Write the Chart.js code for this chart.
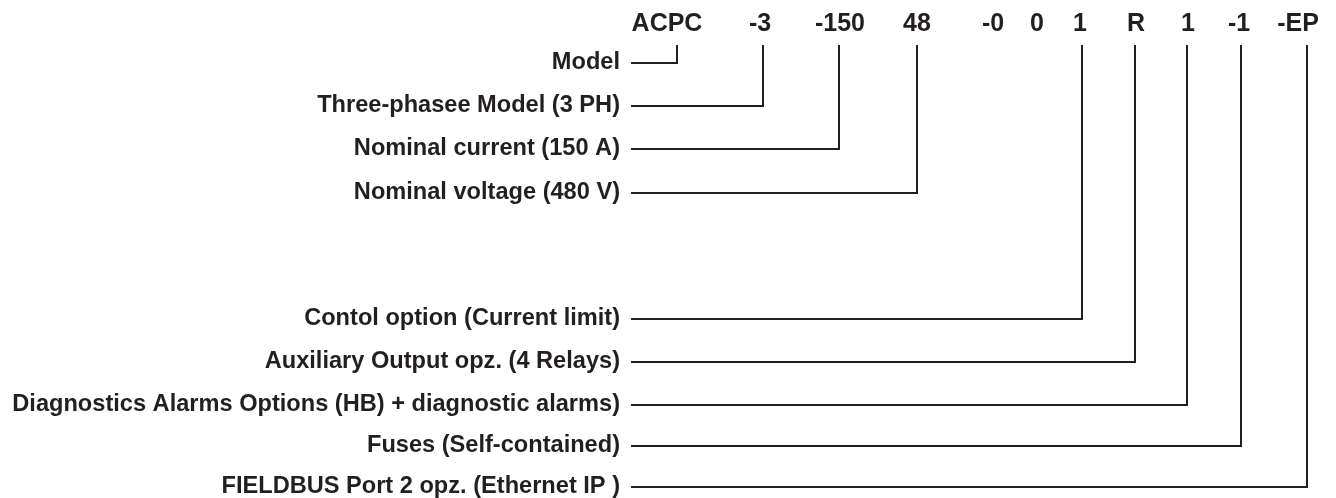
<!DOCTYPE html>
<html>
<head>
<meta charset="utf-8">
<title>ACPC ordering code</title>
<script src="https://cdn.jsdelivr.net/npm/chart.js@4"></script>
<style>
  html, body { margin: 0; padding: 0; background: #fff; }
  #wrap { width: 1336px; height: 498px; }
</style>
</head>
<body>
<div id="wrap"><canvas id="codeChart" width="1336" height="498"></canvas></div>
<script>
// Ordering code segments (top row) and where each one sits on the x scale
const codes = ["ACPC", "-3", "-150", "48", "-0", "0", "1", "R", "1", "-1", "-EP"];
const codeX = [667, 760, 840, 917, 993, 1037, 1080, 1136, 1188, 1239, 1298];

// Descriptions, the code segment each one points to, and their row on the y scale
const labels = [
  "Model",
  "Three-phasee Model (3 PH)",
  "Nominal current (150 A)",
  "Nominal voltage (480 V)",
  "Contol option (Current limit)",
  "Auxiliary Output opz. (4 Relays)",
  "Diagnostics Alarms Options (HB) + diagnostic alarms)",
  "Fuses (Self-contained)",
  "FIELDBUS Port 2 opz. (Ethernet IP )"
];
const codeIndex = [0, 1, 2, 3, 6, 7, 8, 9, 10];
const leadX = [677, 763, 839, 917, 1082, 1135, 1187, 1241, 1307];
const rowY = [63, 106, 149, 193, 319, 362, 405, 446, 487];

const INK = "#231f20";
const FONT = '"Liberation Sans", Arial, Helvetica, sans-serif';
const labelEdge = 631; // where the leader lines start
const leadTop = 45;    // leader lines stop just under the code row
const codeBaseline = 31;

// one polyline per description: across to the segment, then up to the code
const datasets = labels.map((lab, i) => ({
  label: lab,
  data: [
    { x: labelEdge, y: rowY[i] },
    { x: leadX[i], y: rowY[i] },
    { x: leadX[i], y: leadTop }
  ],
  showLine: true,
  borderColor: INK,
  borderWidth: 2,
  pointRadius: 0,
  fill: false,
  tension: 0
}));

// draws the code row and the right-aligned descriptions
const textPlugin = {
  id: "codeText",
  afterDatasetsDraw(chart) {
    const { ctx, scales } = chart;
    const x = scales.x, y = scales.y;
    ctx.save();
    ctx.fillStyle = INK;
    ctx.textBaseline = "alphabetic";

    ctx.font = "bold 25px " + FONT;
    ctx.textAlign = "center";
    codes.forEach((c, i) => {
      ctx.fillText(c, x.getPixelForValue(codeX[i]), y.getPixelForValue(codeBaseline));
    });

    ctx.font = "bold 23.6px " + FONT;
    ctx.textAlign = "right";
    labels.forEach((lab, i) => {
      ctx.fillText(lab, x.getPixelForValue(labelEdge - 11), y.getPixelForValue(rowY[i] + 6));
    });
    ctx.restore();
  }
};

const ctx = document.getElementById("codeChart").getContext("2d");
const codeChart = new Chart(ctx, {
  type: "scatter",
  data: { datasets: datasets },
  plugins: [textPlugin],
  options: {
    responsive: false,
    animation: false,
    layout: { padding: 0 },
    plugins: {
      legend: { display: false },
      tooltip: { enabled: false }
    },
    scales: {
      x: { type: "linear", min: 0, max: 1336, display: false },
      y: { type: "linear", min: 0, max: 498, reverse: true, display: false }
    }
  }
});
</script>
</body>
</html>
